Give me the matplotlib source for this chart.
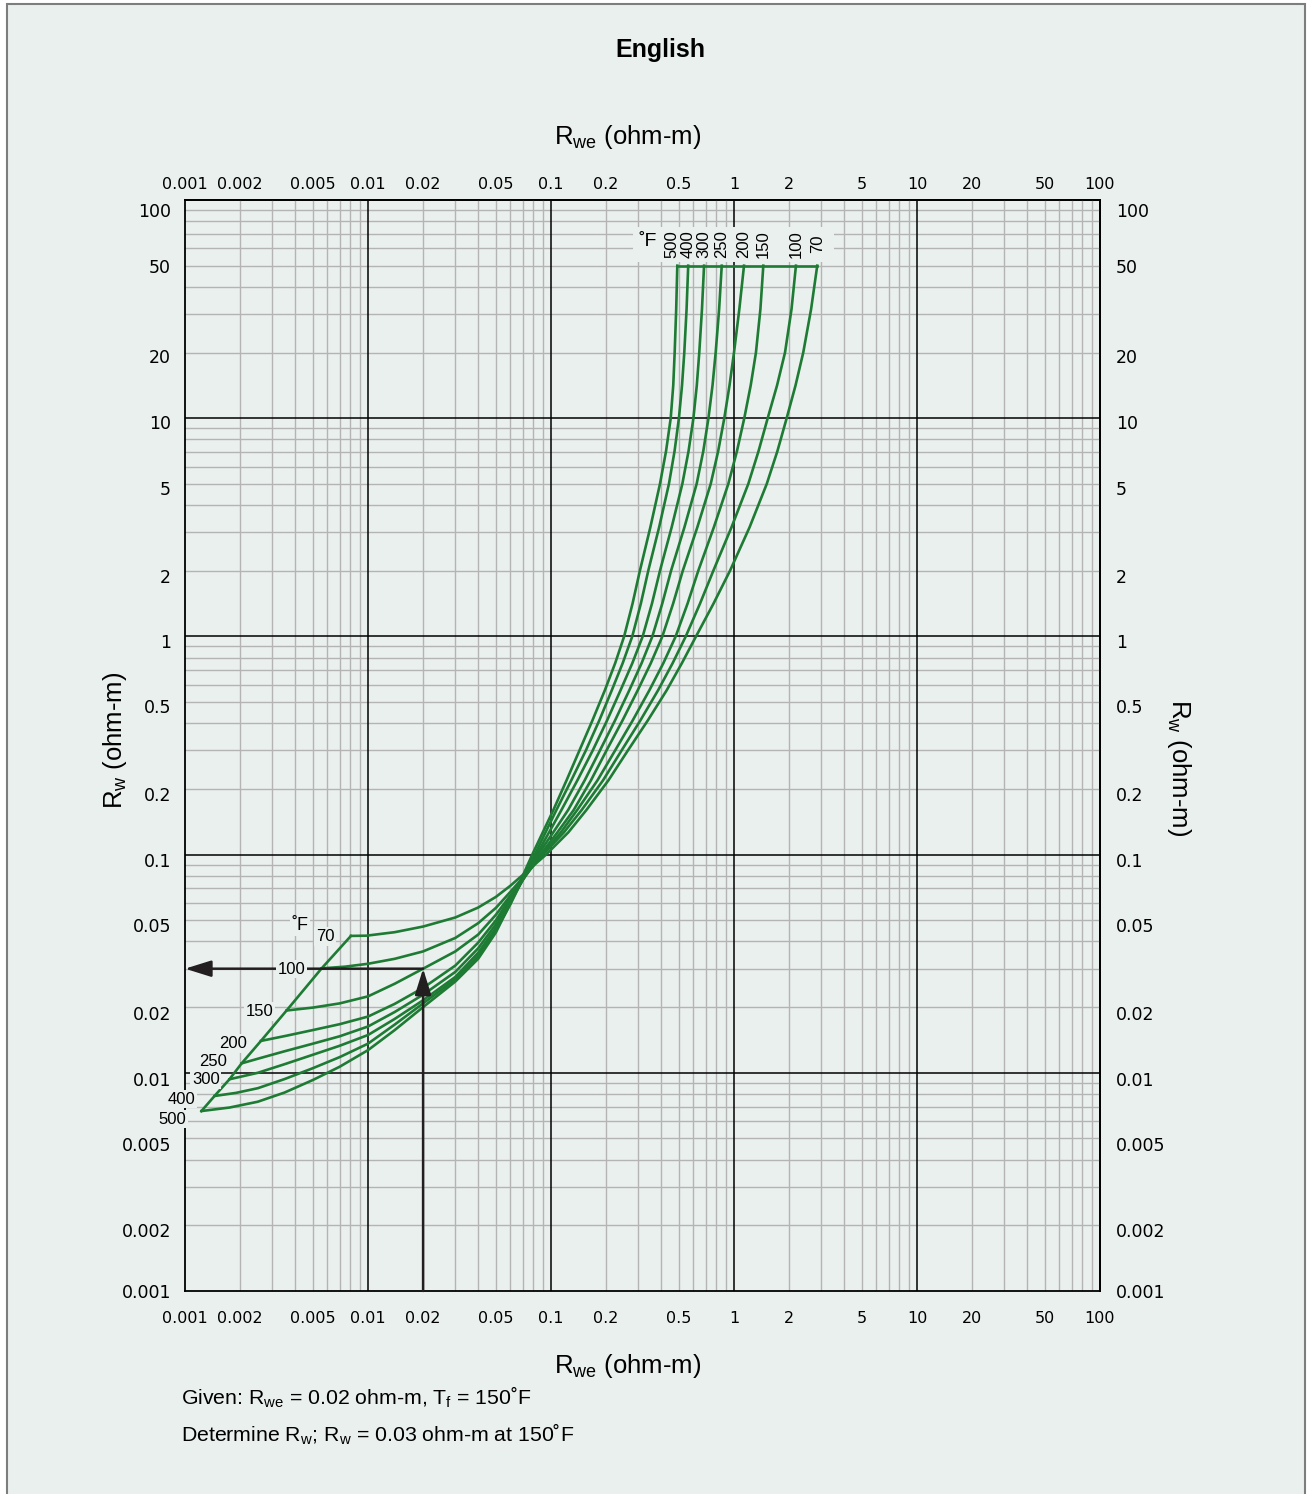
import matplotlib.pyplot as plt
from matplotlib.patches import Rectangle
from matplotlib.ticker import NullLocator
from matplotlib.transforms import ScaledTranslation

plt.rcParams['font.family'] = ['Liberation Sans', 'DejaVu Sans']
plt.rcParams['mathtext.fontset'] = 'custom'
plt.rcParams['mathtext.rm'] = 'Liberation Sans'
plt.rcParams['mathtext.it'] = 'Liberation Sans:italic'

bg_color = '#eaf0ee'
frame_color = '#7d7d7d'
curve_color = '#1e7b34'
arrow_color = '#231f20'
grid_minor_color = '#b4b4b4'
curve_lw = 1.9
xtick_fontsize = 11.5
ytick_fontsize = 12.5
axis_label_fontsize = 18.5

# formation temperature, degF
temps = [70, 100, 150, 200, 250, 300, 400, 500]

# lower branch: Rwe (x) -> Rw (y), from the start line up to the crossing
rwe_low_70 = [0.00807, 0.0098, 0.014, 0.02, 0.03, 0.04, 0.05, 0.06]
rw_low_70 = [0.0424, 0.0425, 0.0441, 0.0468, 0.0515, 0.0572, 0.0640, 0.0720]
rwe_low_100 = [0.00558, 0.0075, 0.01, 0.014, 0.02, 0.03, 0.04, 0.05, 0.06]
rw_low_100 = [0.0301, 0.03065, 0.0316, 0.0333, 0.0360, 0.0415, 0.0485, 0.0570, 0.0675]
rwe_low_150 = [0.00359, 0.005, 0.007, 0.01, 0.014, 0.02, 0.03, 0.04, 0.05, 0.06]
rw_low_150 = [0.0193, 0.0199, 0.0208, 0.0224, 0.0256, 0.0300, 0.0360, 0.0430, 0.0530, 0.0650]
rwe_low_200 = [0.0026, 0.0036, 0.005, 0.007, 0.01, 0.014, 0.02, 0.03, 0.04, 0.05, 0.06]
rw_low_200 = [0.0140, 0.0148, 0.0157, 0.0167, 0.0181, 0.0207, 0.0245, 0.0310, 0.0395, 0.0500, 0.0635]
rwe_low_250 = [0.00204, 0.0025, 0.0035, 0.005, 0.007, 0.01, 0.014, 0.02, 0.03, 0.04, 0.05, 0.06]
rw_low_250 = [0.01105, 0.0116, 0.01255, 0.0136, 0.0147, 0.0163, 0.0190, 0.0228, 0.0290, 0.0372, 0.0480, 0.0615]
rwe_low_300 = [0.00175, 0.0025, 0.0035, 0.005, 0.007, 0.01, 0.014, 0.02, 0.03, 0.04, 0.05, 0.06]
rw_low_300 = [0.00934, 0.0100, 0.01095, 0.0121, 0.0133, 0.0149, 0.01766, 0.0215, 0.0275, 0.0355, 0.0462, 0.0605]
rwe_low_400 = [0.00145, 0.0019, 0.0025, 0.0035, 0.005, 0.007, 0.01, 0.014, 0.02, 0.03, 0.04, 0.05, 0.06]
rw_low_400 = [0.00783, 0.00809, 0.0085, 0.00936, 0.0105, 0.0118, 0.0136, 0.01664, 0.0208, 0.0268, 0.0343, 0.0450, 0.0592]
rwe_low_500 = [0.00123, 0.00175, 0.0025, 0.0035, 0.005, 0.007, 0.01, 0.014, 0.02, 0.03, 0.04, 0.05, 0.06]
rw_low_500 = [0.00668, 0.00693, 0.00737, 0.00812, 0.00927, 0.01066, 0.0127, 0.0157, 0.0200, 0.0262, 0.0333, 0.0440, 0.0598]

# upper branch: Rwe read at fixed Rw levels
rw_up = [0.1, 0.1265, 0.16, 0.219, 0.3, 0.412, 0.567, 0.753, 1, 1.414, 2, 3.162, 5, 7.07, 10, 14.14, 20, 31.6, 50]
rwe_up_70 = [0.094, 0.1244, 0.156, 0.206, 0.263, 0.338, 0.429, 0.5187, 0.620, 0.7727, 0.951,
             1.2162, 1.51, 1.727, 1.94, 2.169, 2.39, 2.638, 2.85]
rwe_up_100 = [0.0905, 0.1177, 0.147, 0.1925, 0.243, 0.3078, 0.385, 0.4617, 0.545, 0.6521, 0.771,
              0.9689, 1.197, 1.362, 1.528, 1.719, 1.90, 2.062, 2.18]
rwe_up_150 = [0.089, 0.1132, 0.139, 0.1795, 0.224, 0.2795, 0.345, 0.4108, 0.480, 0.5575, 0.638,
              0.7759, 0.931, 1.038, 1.138, 1.234, 1.318, 1.394, 1.446]
rwe_up_200 = [0.0875, 0.1084, 0.133, 0.1653, 0.201, 0.2459, 0.298, 0.3508, 0.406, 0.4649, 0.525,
              0.6302, 0.746, 0.8196, 0.885, 0.9452, 1.0, 1.0693, 1.134]
rwe_up_250 = [0.085, 0.1029, 0.124, 0.1528, 0.185, 0.2238, 0.268, 0.3125, 0.358, 0.4055, 0.453,
              0.5358, 0.625, 0.6796, 0.725, 0.7632, 0.794, 0.8293, 0.857]
rwe_up_300 = [0.0835, 0.0976, 0.114, 0.1394, 0.169, 0.2025, 0.240, 0.2781, 0.317, 0.3562, 0.394,
              0.4563, 0.522, 0.5645, 0.600, 0.6262, 0.646, 0.6683, 0.686]
rwe_up_400 = [0.0815, 0.0934, 0.107, 0.1291, 0.155, 0.1836, 0.215, 0.2463, 0.278, 0.3097, 0.340,
              0.3897, 0.441, 0.4734, 0.500, 0.5200, 0.535, 0.5506, 0.562]
rwe_up_500 = [0.079, 0.0902, 0.103, 0.1216, 0.143, 0.1684, 0.197, 0.2241, 0.251, 0.2790, 0.306,
              0.3490, 0.394, 0.4253, 0.451, 0.4656, 0.474, 0.4832, 0.490]

# worked example
rwe_given = 0.02
rw_result = 0.03

tick_vals = [0.001, 0.002, 0.005, 0.01, 0.02, 0.05, 0.1, 0.2, 0.5, 1, 2, 5, 10, 20, 50, 100]
tick_labels = ['0.001', '0.002', '0.005', '0.01', '0.02', '0.05', '0.1', '0.2', '0.5',
               '1', '2', '5', '10', '20', '50', '100']

rwe_low_all = [rwe_low_70, rwe_low_100, rwe_low_150, rwe_low_200, rwe_low_250, rwe_low_300, rwe_low_400, rwe_low_500]
rw_low_all = [rw_low_70, rw_low_100, rw_low_150, rw_low_200, rw_low_250, rw_low_300, rw_low_400, rw_low_500]
rwe_up_all = [rwe_up_70, rwe_up_100, rwe_up_150, rwe_up_200, rwe_up_250, rwe_up_300, rwe_up_400, rwe_up_500]

# label offsets (points), y tick label nudges (pixels, downward)
low_label_dx = [-18.7, -21.4, -19.2, -19.9, -20.7, -17.1, -23.8, -20.7]
low_label_dy = [-0.4, -0.5, -0.7, -1.9, 1.3, -0.5, -2.2, -5.8]
top_label_dx = [0, 0, 0, 0, 0, 0, 0, -3.6]
ytick_nudge = [0, 5, 6, 6, 6, 5, 5, 5, 4, 5, 5, 4, 4, 3, 0, 10]


def nudge_labels(labels, fig):
    for lbl, px in zip(labels, ytick_nudge):
        lbl.set_transform(lbl.get_transform() + ScaledTranslation(0, -px / 100, fig.dpi_scale_trans))


def draw_chart():
    fig = plt.figure(figsize=(13.09, 14.94), dpi=100)
    fig.patch.set_facecolor('white')
    fig.add_artist(Rectangle((7 / 1309, -0.01), 1298 / 1309, 1.01 - 4 / 1494, transform=fig.transFigure,
                             facecolor=bg_color, edgecolor=frame_color, linewidth=1.5, zorder=-10))

    ax = fig.add_axes([185 / 1309, 1 - 1291 / 1494, 915 / 1309, 1091 / 1494])
    ax.set_facecolor('none')
    ax.set_xscale('log')
    ax.set_yscale('log')
    ax.set_xlim(0.001, 100)
    ax.set_ylim(0.001, 100)

    # log grid: grey for 2..9, black for decades
    for d in [0.001, 0.01, 0.1, 1, 10]:
        for m in range(2, 10):
            ax.axvline(d * m, color=grid_minor_color, linewidth=1.0, zorder=1)
            ax.axhline(d * m, color=grid_minor_color, linewidth=1.0, zorder=1)
    for d in [0.01, 0.1, 1, 10]:
        ax.axvline(d, color='black', linewidth=1.1, zorder=1.2)
        ax.axhline(d, color='black', linewidth=1.1, zorder=1.2)

    ax.set_xticks(tick_vals, tick_labels)
    ax.set_yticks(tick_vals, tick_labels)
    ax.xaxis.set_minor_locator(NullLocator())
    ax.yaxis.set_minor_locator(NullLocator())
    ax.tick_params(which='both', length=0, labelfontfamily='DejaVu Sans')
    ax.tick_params(axis='x', pad=14.4, labelsize=xtick_fontsize)
    ax.tick_params(axis='y', pad=10, labelsize=ytick_fontsize)
    for s in ax.spines.values():
        s.set_linewidth(1.3)

    top = ax.secondary_xaxis('top')
    top.set_ticks(tick_vals, labels=tick_labels)
    top.xaxis.set_minor_locator(NullLocator())
    top.tick_params(which='both', length=0, pad=5.5, labelsize=xtick_fontsize, labelfontfamily='DejaVu Sans')
    top.spines['top'].set_linewidth(1.3)
    right = ax.secondary_yaxis('right')
    right.set_ticks(tick_vals, labels=tick_labels)
    right.yaxis.set_minor_locator(NullLocator())
    right.tick_params(which='both', length=0, pad=11.5, labelsize=ytick_fontsize, labelfontfamily='DejaVu Sans')
    right.spines['right'].set_linewidth(1.3)
    nudge_labels(ax.get_yticklabels(), fig)
    nudge_labels(right.get_yticklabels(), fig)

    # curves
    for rwe_lo, rw_lo, rwe_hi in zip(rwe_low_all, rw_low_all, rwe_up_all):
        ax.plot(rwe_lo + rwe_hi, rw_lo + rw_up, color=curve_color, linewidth=curve_lw, zorder=3,
                solid_joinstyle='round')
    # start line and top cap
    ax.plot([r[0] for r in rwe_low_all], [r[0] for r in rw_low_all], color=curve_color, linewidth=curve_lw, zorder=3)
    ax.plot([r[-1] for r in rwe_up_all], [rw_up[-1]] * len(temps), color=curve_color, linewidth=curve_lw, zorder=3)

    # temperature labels
    box = dict(boxstyle='square,pad=0.1', facecolor=bg_color, edgecolor='none')
    low_font = ['Liberation Sans Narrow', 'Liberation Sans']
    for i, t in enumerate(temps):
        ax.annotate(str(t), xy=(rwe_low_all[i][0], rw_low_all[i][0]), xytext=(low_label_dx[i], low_label_dy[i]),
                    textcoords='offset points', ha='center', va='center', fontsize=12, family=low_font,
                    bbox=box, zorder=4)
        ax.annotate(str(t), xy=(rwe_up_all[i][-1], rw_up[-1]), xytext=(top_label_dx[i], 15.6),
                    textcoords='offset points', ha='center', va='center', rotation=90, fontsize=12, zorder=4)
    ax.annotate('˚F', xy=(rwe_low_70[0], rw_low_70[0]), xytext=(-36.7, 7.2), textcoords='offset points',
                ha='center', va='center', fontsize=13, bbox=box, zorder=4)
    ax.annotate('˚F', xy=(rwe_up_500[-1], rw_up[-1]), xytext=(-21, 17.5), textcoords='offset points',
                ha='center', va='center', fontsize=14, zorder=4)
    ax.add_patch(Rectangle((0.28, 52), 3.5 - 0.28, 75 - 52, facecolor=bg_color, edgecolor='none', zorder=2))

    # example arrows
    arrow = dict(arrowstyle='-|>,head_length=0.8,head_width=0.25', color=arrow_color, linewidth=1.8,
                 shrinkA=0, shrinkB=0, mutation_scale=20)
    ax.annotate('', xy=(rwe_given, rw_result), xytext=(rwe_given, 0.001), arrowprops=arrow, zorder=3.5)
    ax.annotate('', xy=(0.001, rw_result), xytext=(rwe_given, rw_result), arrowprops=arrow, zorder=3.5)

    fig.text(660 / 1309, 1 - 50 / 1494, 'English', fontsize=18, fontweight='bold', ha='center', va='center')
    fig.text(628 / 1309, 1 - 137 / 1494, r'R$_{\mathrm{we}}$ (ohm-m)', fontsize=axis_label_fontsize,
             ha='center', va='center')
    fig.text(628 / 1309, 1 - 1366 / 1494, r'R$_{\mathrm{we}}$ (ohm-m)', fontsize=axis_label_fontsize,
             ha='center', va='center')
    fig.text(115 / 1309, 1 - 740 / 1494, r'R$_{\mathrm{w}}$ (ohm-m)', fontsize=axis_label_fontsize,
             ha='center', va='center', rotation=90)
    fig.text(1179 / 1309, 1 - 768 / 1494, r'R$_{\mathrm{w}}$ (ohm-m)', fontsize=axis_label_fontsize,
             ha='center', va='center', rotation=270)
    fig.text(181 / 1309, 1 - 1397 / 1494, r'Given: R$_{\mathrm{we}}$ = 0.02 ohm-m, T$_{\mathrm{f}}$ = 150˚F',
             fontsize=15.3, ha='left', va='center')
    fig.text(181 / 1309, 1 - 1434 / 1494, r'Determine R$_{\mathrm{w}}$; R$_{\mathrm{w}}$ = 0.03 ohm-m at 150˚F',
             fontsize=15.3, ha='left', va='center')

    fig.savefig('out.png', dpi=100, facecolor=fig.get_facecolor())


if __name__ == '__main__':
    draw_chart()
